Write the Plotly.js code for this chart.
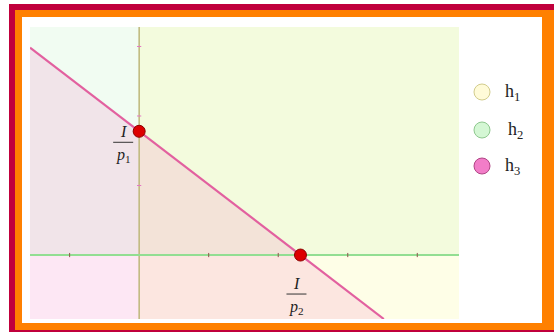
<!DOCTYPE html>
<html>
<head>
<meta charset="utf-8">
<script src="https://cdn.plot.ly/plotly-3.0.1.min.js"></script>
<style>
  html, body { margin: 0; padding: 0; width: 554px; height: 332px; overflow: hidden; background: #ffffff; }
  .frame { position: absolute; }
  #outer { left: 9px; top: 4px; width: 545px; height: 328px; background: #c0003c; }
  #middle { left: 15px; top: 10px; width: 539px; height: 320px; background: #ff8000; }
  #inner { left: 22px; top: 17px; width: 520px; height: 306px; background: #ffffff; }
  #chart { position: absolute; left: 0; top: 0; width: 554px; height: 332px; }
</style>
</head>
<body>
<div class="frame" id="outer"></div>
<div class="frame" id="middle"></div>
<div class="frame" id="inner"></div>
<div id="chart"></div>
<script>
// Budget line intercepts: I/p1 on the vertical axis, I/p2 on the horizontal axis
const interceptLabels = ['<i>p</i><sub>1</sub>', '<i>p</i><sub>2</sub>'];
const pointX = [0, 2.32];
const pointY = [1.78, 0];

// Visible window of the plane
const xRange = [-1.57, 4.6];
const yRange = [-0.92, 3.28];

// Small tick marks along the two axes
const xTicks = [-1, 1, 2, 3, 4];
const yTicks = [1, 2, 3];

// Half-planes
const regionNames = ['h<sub>1</sub>', 'h<sub>2</sub>', 'h<sub>3</sub>'];
const regionFills = ['rgba(251,250,150,0.23)', 'rgba(140,230,150,0.12)', 'rgba(245,120,195,0.18)'];
const legendFills = ['#fffbd8', '#d4f7d4', '#f27dc8'];
const legendEdges = ['#d2cc8c', '#8fc88f', '#b04585'];

const [x0, x1] = xRange;
const [y0, y1] = yRange;
const yInt = pointY[0];
const xInt = pointX[1];
const lineY = x => yInt * (1 - x / xInt);
const lineXAtBottom = xInt * (1 - y0 / yInt);

const traces = [];

// h2: y >= 0
traces.push({
  x: [x0, x1, x1, x0, x0], y: [0, 0, y1, y1, 0],
  mode: 'none', fill: 'toself', fillcolor: regionFills[1], hoverinfo: 'skip', showlegend: false
});
// h1: x >= 0
traces.push({
  x: [0, x1, x1, 0, 0], y: [y0, y0, y1, y1, y0],
  mode: 'none', fill: 'toself', fillcolor: regionFills[0], hoverinfo: 'skip', showlegend: false
});
// h3: below the budget line
traces.push({
  x: [x0, lineXAtBottom, x0, x0], y: [lineY(x0), y0, y0, lineY(x0)],
  mode: 'none', fill: 'toself', fillcolor: regionFills[2], hoverinfo: 'skip', showlegend: false
});

// boundary of h1 (vertical axis)
traces.push({
  x: [0, 0], y: [y0, y1], mode: 'lines',
  line: { color: '#bdb77a', width: 1.5 }, hoverinfo: 'skip', showlegend: false
});
// boundary of h2 (horizontal axis)
traces.push({
  x: [x0, x1], y: [0, 0], mode: 'lines',
  line: { color: '#92de92', width: 2 }, hoverinfo: 'skip', showlegend: false
});
// tick marks
traces.push({
  x: xTicks, y: xTicks.map(() => 0), mode: 'markers',
  marker: { symbol: 'line-ns-open', size: 3, line: { color: '#7a7a70', width: 1 } },
  hoverinfo: 'skip', showlegend: false
});
traces.push({
  x: yTicks.map(() => 0), y: yTicks, mode: 'markers',
  marker: { symbol: 'line-ew-open', size: 3, line: { color: '#7a7a70', width: 1 } },
  hoverinfo: 'skip', showlegend: false
});
// boundary of h3 (budget line)
traces.push({
  x: [x0, lineXAtBottom], y: [lineY(x0), y0], mode: 'lines',
  line: { color: '#e2609f', width: 2.2 }, hoverinfo: 'skip', showlegend: false
});
// intercept points
traces.push({
  x: pointX, y: pointY, mode: 'markers',
  marker: { size: 12, color: '#dd0000', line: { color: '#8a0000', width: 1 } },
  hoverinfo: 'skip', showlegend: false
});

const serif = 'Liberation Serif, DejaVu Serif, serif';
const annotations = [];
const shapes = [];

// fraction labels I / p_i next to each intercept
const labelOffsets = [[-16, 0], [-4, -28]];
pointX.forEach((px, i) => {
  const [dx, dy] = labelOffsets[i];
  annotations.push({
    x: px, y: pointY[i], xref: 'x', yref: 'y', xshift: dx, yshift: dy,
    text: '<i>I</i>', showarrow: false, xanchor: 'center', yanchor: 'middle',
    font: { family: serif, size: 16, color: '#222222' }
  });
  annotations.push({
    x: px, y: pointY[i], xref: 'x', yref: 'y', xshift: dx, yshift: dy - 24,
    text: interceptLabels[i], showarrow: false, xanchor: 'center', yanchor: 'middle',
    font: { family: serif, size: 16, color: '#222222' }
  });
  shapes.push({
    type: 'line', xref: 'x', yref: 'y',
    xsizemode: 'pixel', ysizemode: 'pixel', xanchor: px, yanchor: pointY[i],
    x0: dx - 10, x1: dx + 10, y0: dy - 11, y1: dy - 11,
    line: { color: '#333333', width: 1 }
  });
});

// legend: circle swatch + label for each half-plane
const plotL = 30, plotT = 27, plotW = 429, plotH = 292;
const legendRows = [92, 130, 166];
const legendTextX = [503, 506, 503];
regionNames.forEach((name, i) => {
  const cy = (plotT + plotH - legendRows[i]) / plotH;
  const cx = (482 - plotL) / plotW;
  shapes.push({
    type: 'circle', xref: 'paper', yref: 'paper',
    xsizemode: 'pixel', ysizemode: 'pixel', xanchor: cx, yanchor: cy,
    x0: -8, x1: 8, y0: -8, y1: 8,
    fillcolor: legendFills[i], line: { color: legendEdges[i], width: 1 }
  });
  annotations.push({
    x: (legendTextX[i] - plotL) / plotW, y: cy, xref: 'paper', yref: 'paper',
    text: name, showarrow: false, xanchor: 'left', yanchor: 'middle',
    font: { family: serif, size: 18, color: '#222222' }
  });
});

const layout = {
  width: 554, height: 332,
  margin: { l: plotL, r: 554 - plotL - plotW, t: plotT, b: 332 - plotT - plotH, pad: 0 },
  paper_bgcolor: 'rgba(0,0,0,0)',
  plot_bgcolor: 'rgba(0,0,0,0)',
  xaxis: { range: xRange, showgrid: false, zeroline: false, showticklabels: false, ticks: '', showline: false, fixedrange: true },
  yaxis: { range: yRange, showgrid: false, zeroline: false, showticklabels: false, ticks: '', showline: false, fixedrange: true },
  showlegend: false,
  annotations: annotations,
  shapes: shapes
};

Plotly.newPlot('chart', traces, layout, { staticPlot: true, displayModeBar: false });
</script>
</body>
</html>
